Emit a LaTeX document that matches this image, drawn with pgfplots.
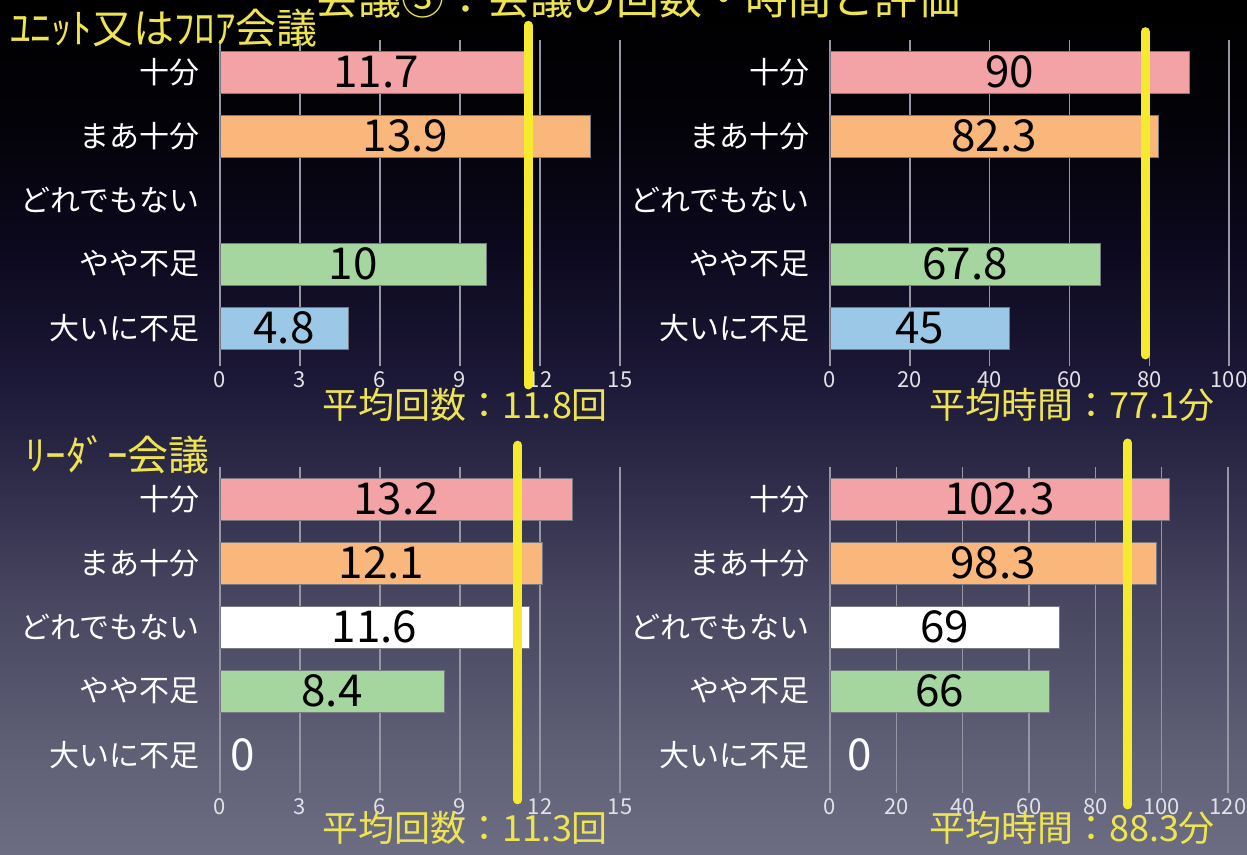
\documentclass[border=0pt]{standalone}
\usepackage{pgfplots}
\pgfplotsset{compat=1.18}
\usepackage{fontspec}
\setmainfont{Noto Sans CJK JP}
\definecolor{cpink}{RGB}{243,163,165}
\definecolor{corange}{RGB}{249,183,124}
\definecolor{cgreen}{RGB}{166,214,160}
\definecolor{cblue}{RGB}{156,200,232}
\definecolor{barline}{RGB}{120,120,130}
\definecolor{gridc}{RGB}{150,150,165}
\definecolor{tickc}{RGB}{225,225,230}
\definecolor{cyellow}{RGB}{246,234,46}
\definecolor{tyellow}{RGB}{238,228,80}
\definecolor{b0}{RGB}{108,108,130}
\definecolor{b1}{RGB}{95,95,118}
\definecolor{b2}{RGB}{72,70,96}
\definecolor{b3}{RGB}{45,42,72}
\definecolor{b4}{RGB}{28,24,55}
\definecolor{b5}{RGB}{12,9,30}
\definecolor{b6}{RGB}{3,2,8}
\definecolor{b7}{RGB}{0,0,0}
\pgfdeclareverticalshading{bgsh}{100bp}{color(0bp)=(b0); color(25bp)=(b0); color(31.1bp)=(b1); color(39.9bp)=(b2); color(47.5bp)=(b3); color(52.8bp)=(b4); color(60.4bp)=(b5); color(68bp)=(b6); color(75bp)=(b7); color(100bp)=(b7)}
\pgfplotsset{
  panel/.style={scale only axis, ymin=-0.6, ymax=4.5, height=163.2pt,
    xmin=0, clip=false, axis line style={draw=none}, major tick length=0pt,
    xmajorgrids, grid style={gridc, line width=0.7pt},
    ytick={0,1,2,3,4}, yticklabels={大いに不足,やや不足,どれでもない,まあ十分,十分},
    yticklabel style={font=\fontsize{15}{17}\selectfont, text=white, xshift=-6.5pt},
    xticklabel style={font=\fontsize{11}{13}\selectfont, text=tickc, yshift=1pt},
    /pgf/number format/assume math mode=true, anchor=south west},
  hb/.style={xbar, bar width=21pt, bar shift=0pt, draw=barline, line width=0.3pt, fill=#1},
  vl/.style={draw=none, nodes near coords, point meta=explicit symbolic,
    nodes near coords style={anchor=center, font=\fontsize{22}{24}\selectfont, text=#1}},
  avg/.style={no marks, line width=4.5pt, color=cyellow, line cap=round},
}
\begin{document}
\begin{tikzpicture}
\useasboundingbox (0pt,0pt) rectangle (623.5pt,427.5pt);
\clip (0pt,0pt) rectangle (623.5pt,427.5pt);
\shade[shading=bgsh] (0pt,0pt) rectangle (623.5pt,427.5pt);

% ---- top left: unit/floor, count
\begin{axis}[panel, at={(110pt,244.3pt)}, width=200pt, xmax=15, xtick={0,3,...,15}]
\addplot[hb=cpink] coordinates {(11.7,4)};
\addplot[hb=corange] coordinates {(13.9,3)};
\addplot[hb=cgreen] coordinates {(10,1)};
\addplot[hb=cblue] coordinates {(4.8,0)};
\addplot[vl=black] coordinates {(5.85,4) [11.7] (6.95,3) [13.9] (5,1) [10] (2.4,0) [4.8]};
\addplot[avg] coordinates {(11.55,4.73) (11.55,-0.89)};
\end{axis}

% ---- top right: unit/floor, time
\begin{axis}[panel, at={(415pt,244.3pt)}, width=199.5pt, xmax=100, xtick={0,20,...,100}]
\addplot[hb=cpink] coordinates {(90,4)};
\addplot[hb=corange] coordinates {(82.3,3)};
\addplot[hb=cgreen] coordinates {(67.8,1)};
\addplot[hb=cblue] coordinates {(45,0)};
\addplot[vl=black] coordinates {(45,4) [90] (41.15,3) [82.3] (33.9,1) [67.8] (22.5,0) [45]};
\addplot[avg] coordinates {(79,4.63) (79,-0.42)};
\end{axis}

% ---- bottom left: leader, count
\begin{axis}[panel, at={(110pt,30.8pt)}, width=200pt, xmax=15, xtick={0,3,...,15}]
\addplot[hb=cpink] coordinates {(13.2,4)};
\addplot[hb=corange] coordinates {(12.1,3)};
\addplot[hb=white] coordinates {(11.6,2)};
\addplot[hb=cgreen] coordinates {(8.4,1)};
\addplot[vl=black] coordinates {(6.6,4) [13.2] (6.05,3) [12.1] (5.8,2) [11.6] (4.2,1) [8.4]};
\addplot[vl=white] coordinates {(0.86,0) [0]};
\addplot[avg] coordinates {(11.17,4.84) (11.17,-0.7)};
\end{axis}

% ---- bottom right: leader, time
\begin{axis}[panel, at={(415pt,30.8pt)}, width=199pt, xmax=120, xtick={0,20,...,120}]
\addplot[hb=cpink] coordinates {(102.3,4)};
\addplot[hb=corange] coordinates {(98.3,3)};
\addplot[hb=white] coordinates {(69,2)};
\addplot[hb=cgreen] coordinates {(66,1)};
\addplot[vl=black] coordinates {(51.15,4) [102.3] (49.15,3) [98.3] (34.5,2) [69] (33,1) [66]};
\addplot[vl=white] coordinates {(9,0) [0]};
\addplot[avg] coordinates {(89.8,4.875) (89.8,-0.78)};
\end{axis}

% ---- texts
\node[anchor=base, text=tyellow, font=\fontsize{21.5}{24}\selectfont, inner sep=0pt] at (319pt,420pt) {会議③：会議の回数・時間と評価};
\node[anchor=west, text=tyellow, font=\fontsize{20.5}{22}\selectfont, inner sep=0pt] at (5pt,413.5pt) {ﾕﾆｯﾄ又はﾌﾛｱ会議};
\node[anchor=west, text=tyellow, font=\fontsize{20.5}{22}\selectfont, inner sep=0pt] at (12.5pt,200pt) {ﾘｰﾀﾞｰ会議};
\node[text=tyellow, font=\fontsize{18}{20}\selectfont, inner sep=0pt] at (232.5pt,225pt) {平均回数：11.8回};
\node[text=tyellow, font=\fontsize{18}{20}\selectfont, inner sep=0pt] at (536pt,225pt) {平均時間：77.1分};
\node[text=tyellow, font=\fontsize{18}{20}\selectfont, inner sep=0pt] at (232.5pt,13.5pt) {平均回数：11.3回};
\node[text=tyellow, font=\fontsize{18}{20}\selectfont, inner sep=0pt] at (536pt,13.5pt) {平均時間：88.3分};
\end{tikzpicture}
\end{document}
